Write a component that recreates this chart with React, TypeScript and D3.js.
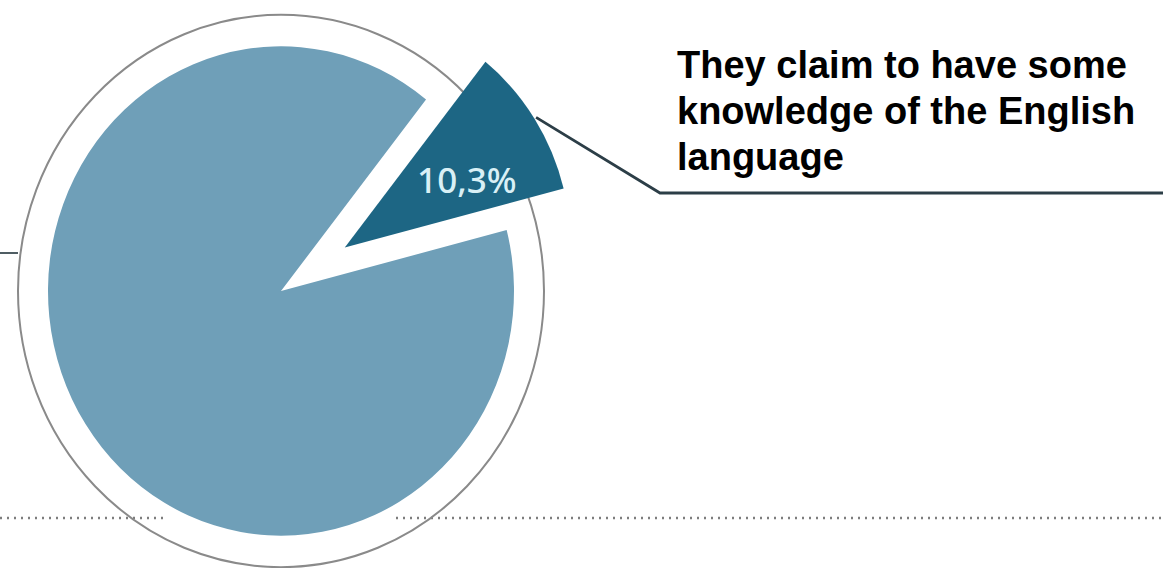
import React from "react";
import * as d3 from "d3";

const categories = ["Claim some knowledge of English", "Others"];
const values = [10.3, 89.7];
const labels = ["10,3%", ""];
const annotationLines = ["They claim to have some", "knowledge of the English", "language"];

const W = 1163;
const H = 568;
const CX = 281;
const CY = 291;
const SY = 1.05;
const R_MAIN = 233;
const R_SMALL = 226;
const EXPLODE = 76;
const R_OUTLINE = 263;
const START = (38.5 * Math.PI) / 180;

export default function App() {
  const pie = d3
    .pie<number>()
    .sort(null)
    .value((d) => d)
    .startAngle(START)
    .endAngle(START + 2 * Math.PI);
  const arcs = pie(values);
  const small = arcs[0];
  const main = arcs[1];
  const mainArc = d3.arc<d3.PieArcDatum<number>>().innerRadius(0).outerRadius(R_MAIN);
  const smallArc = d3.arc<d3.PieArcDatum<number>>().innerRadius(0).outerRadius(R_SMALL);
  const mid = (small.startAngle + small.endAngle) / 2;
  const ox = Math.sin(mid) * EXPLODE;
  const oy = -Math.cos(mid) * EXPLODE;

  const toScreen = (r: number, a: number) => {
    const x = CX + ox + Math.sin(a) * r;
    const y = CY + SY * (oy - Math.cos(a) * r);
    return [x, y];
  };
  const [lx, ly] = toScreen(138, mid + 0.09);
  const [px, py] = toScreen(R_SMALL + 2, mid);

  const dotY = 518;

  return (
    <svg width={W} height={H} style={{ display: "block", position: "absolute", left: 0, top: 0, background: "#fff" }}>
      <rect x={0} y={0} width={W} height={H} fill="#ffffff" />
      <line x1={0} x2={165} y1={dotY} y2={dotY} stroke="#7d7d7d" strokeWidth={2.4} strokeDasharray="2 5" />
      <line x1={396} x2={W} y1={dotY} y2={dotY} stroke="#7d7d7d" strokeWidth={2.4} strokeDasharray="2 5" />
      <line x1={0} x2={CX - R_OUTLINE} y1={253} y2={253} stroke="#4f5d63" strokeWidth={2} />
      <g transform={`translate(${CX},${CY}) scale(1,${SY})`}>
        <circle r={R_OUTLINE} fill="none" stroke="#8a8a8a" strokeWidth={2} vectorEffect="non-scaling-stroke" />
        <path d={mainArc(main) || ""} fill="#6f9fb8" />
        <path d={smallArc(small) || ""} transform={`translate(${ox},${oy})`} fill="#1d6684" />
      </g>
      <polyline
        points={`${px},${py} 660,193 ${W},193`}
        fill="none"
        stroke="#2c3e47"
        strokeWidth={2.8}
      />
      <text
        x={lx}
        y={ly}
        textAnchor="middle"
        dominantBaseline="central"
        fontFamily="'Noto Sans', 'Open Sans', sans-serif"
        fontSize={35}
        fontWeight={500}
        fill="#d9f0f6"
      >
        {labels[0]}
      </text>
      {annotationLines.map((t, i) => (
        <text
          key={i}
          x={677}
          y={78 + i * 46}
          fontFamily="'Liberation Sans', Arial, sans-serif"
          fontWeight="bold"
          fontSize={38}
          fill="#000"
        >
          {t}
        </text>
      ))}
      <title>{categories.join(" / ")}</title>
    </svg>
  );
}
